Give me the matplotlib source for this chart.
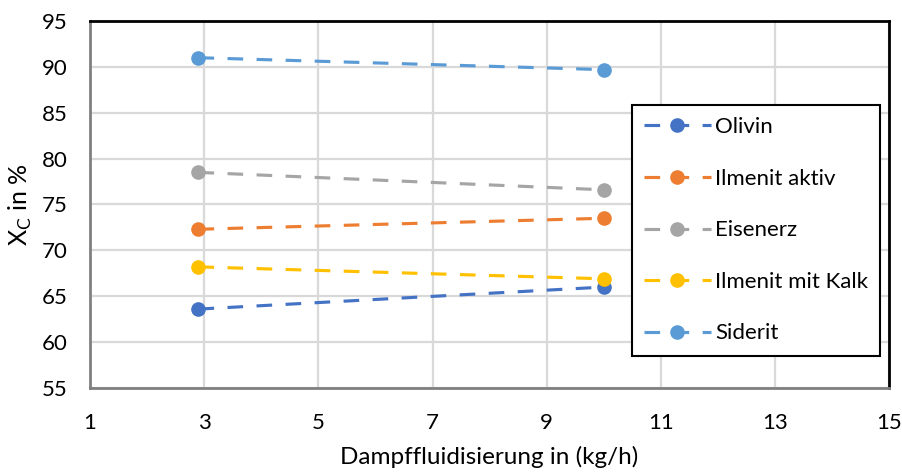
import matplotlib
matplotlib.use('Agg')
import matplotlib.pyplot as plt

plt.rcParams['font.family'] = ['Lato', 'DejaVu Sans']
plt.rcParams['mathtext.fontset'] = 'custom'
plt.rcParams['mathtext.rm'] = 'Lato'

# Dampfmenge und Umsatz je Material
dampf = [2.9, 10.0]
namen = ['Olivin', 'Ilmenit aktiv', 'Eisenerz', 'Ilmenit mit Kalk', 'Siderit']
olivin = [63.6, 66.0]
ilmenit_aktiv = [72.3, 73.5]
eisenerz = [78.5, 76.6]
ilmenit_kalk = [68.2, 66.9]
siderit = [91.0, 89.7]
farben = ['#4472C4', '#ED7D31', '#A5A5A5', '#FFC000', '#5B9BD5']

x_ticks = [1, 3, 5, 7, 9, 11, 13, 15]
y_ticks = [55, 60, 65, 70, 75, 80, 85, 90, 95]

fig = plt.figure(figsize=(9.03, 4.72), dpi=100)
ax = fig.add_axes([0.0997, 0.178, 0.885, 0.7775])

reihen = [olivin, ilmenit_aktiv, eisenerz, ilmenit_kalk, siderit]
for name, werte, farbe in zip(namen, reihen, farben):
    ax.plot(dampf, werte, color=farbe, lw=2.25, dashes=(5, 4.3),
            marker='o', markersize=9.5, label=name, zorder=3)

ax.set_xlim(1, 15)
ax.set_ylim(55, 95)
ax.set_xticks(x_ticks)
ax.set_yticks(y_ticks)
ax.grid(True, color='#D9D9D9', lw=1.6)
ax.set_axisbelow(True)
ax.tick_params(length=0, labelsize=16)
ax.tick_params(axis='y', pad=16)
ax.tick_params(axis='x', pad=18)

for s in ['top', 'right']:
    ax.spines[s].set_color('black')
    ax.spines[s].set_linewidth(2)
for s in ['left', 'bottom']:
    ax.spines[s].set_color('#808080')
    ax.spines[s].set_linewidth(2)

ax.set_xlabel('Dampffluidisierung in (kg/h)', fontsize=17.5, labelpad=9)
ax.set_ylabel(r'X$_\mathregular{C}$ in %', fontsize=18, labelpad=6)

leg = ax.legend(loc='upper left', bbox_to_anchor=(0.678, 0.771), fontsize=16,
                fancybox=False, edgecolor='black', framealpha=1,
                handlelength=3.0, handletextpad=0.2, labelspacing=1.42,
                borderpad=0.55, borderaxespad=0)
leg.get_frame().set_linewidth(1.5)

fig.savefig('out.png', dpi=100)
